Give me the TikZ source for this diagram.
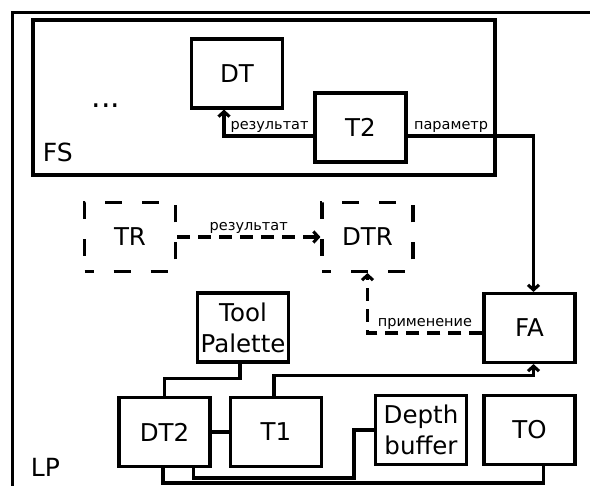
\documentclass[tikz,border=0pt]{standalone}
\usepackage{fontspec}
\setmainfont{DejaVu Sans}
\usetikzlibrary{arrows.meta}
\begin{document}
\begin{tikzpicture}[x=1pt,y=-1pt,line width=3.1pt,>={Straight Barb[length=5pt,width=11pt]},
  box/.style={draw,minimum width=91pt,minimum height=69pt,inner sep=1pt,align=center,font=\fontsize{24.5}{31}\selectfont},
  dbox/.style={box,dash pattern=on 17pt off 20pt,dash phase=8pt},
  lbl/.style={font=\fontsize{14.5}{16}\selectfont,inner sep=2pt}]
\useasboundingbox (0,0) rectangle (590,486);
\draw (600,12.5) -- (12.5,12.5) -- (12.5,500);
\draw (33,20) rectangle (495,175);
\node[anchor=base west,font=\fontsize{25}{28}\selectfont] (fslab) at (38,162) {FS};
\node[anchor=base west,font=\fontsize{25}{28}\selectfont] (lplab) at (26,477) {LP};
\node[anchor=base,font=\fontsize{30}{30}\selectfont] (dots) at (106,108) {...};
\foreach \n/\x/\y/\t in {dt/237/73.5/DT,t2/360.5/127.5/T2,fa/529.5/328/FA,tp/243/327.5/{Tool\\Palette},
  dt2/164.5/432/DT2,t1/276/432/T1,db/421/430/{Depth\\buffer},tout/529.5/430/TO}
  \node[box] (\n) at (\x,\y) {\t};
\foreach \n/\x/\t in {tr/130/TR,dtr/367.5/DTR}
  \node[dbox] (\n) at (\x,237) {\t};
\draw[->] ([yshift=-8.5pt]t2.west) -| ([xshift=-13pt]dt.south) node[pos=0.5,above right,lbl,xshift=3pt] {результат};
\draw[->] ([yshift=-8.5pt]t2.east) node[above right,lbl,xshift=3pt] (parlab) {параметр} -| ([xshift=4pt]fa.north);
\draw[->,dash pattern=on 13pt off 8pt] (tr) -- (dtr) node[midway,above,lbl] {результат};
\draw[->,dash pattern=on 13pt off 8pt] ([yshift=-5pt]fa.west) -| (dtr.south) node[pos=0.25,above,lbl] {применение};
\draw ([xshift=-3pt]tp.south) -- ++(0,15) -| (dt2.north);
\draw[->] ([xshift=-2pt]t1.north) -- ++(0,-20) -| ([xshift=4pt]fa.south);
\draw (dt2.east) -- (t1.west);
\draw ([xshift=29pt]dt2.south) -- ++(0,10) -| ([xshift=-20pt]db.west) -- (db.west);
\draw ([xshift=-1.5pt]dt2.south) -- ++(0,15) -| ([xshift=14pt]tout.south);
\end{tikzpicture}
\end{document}
